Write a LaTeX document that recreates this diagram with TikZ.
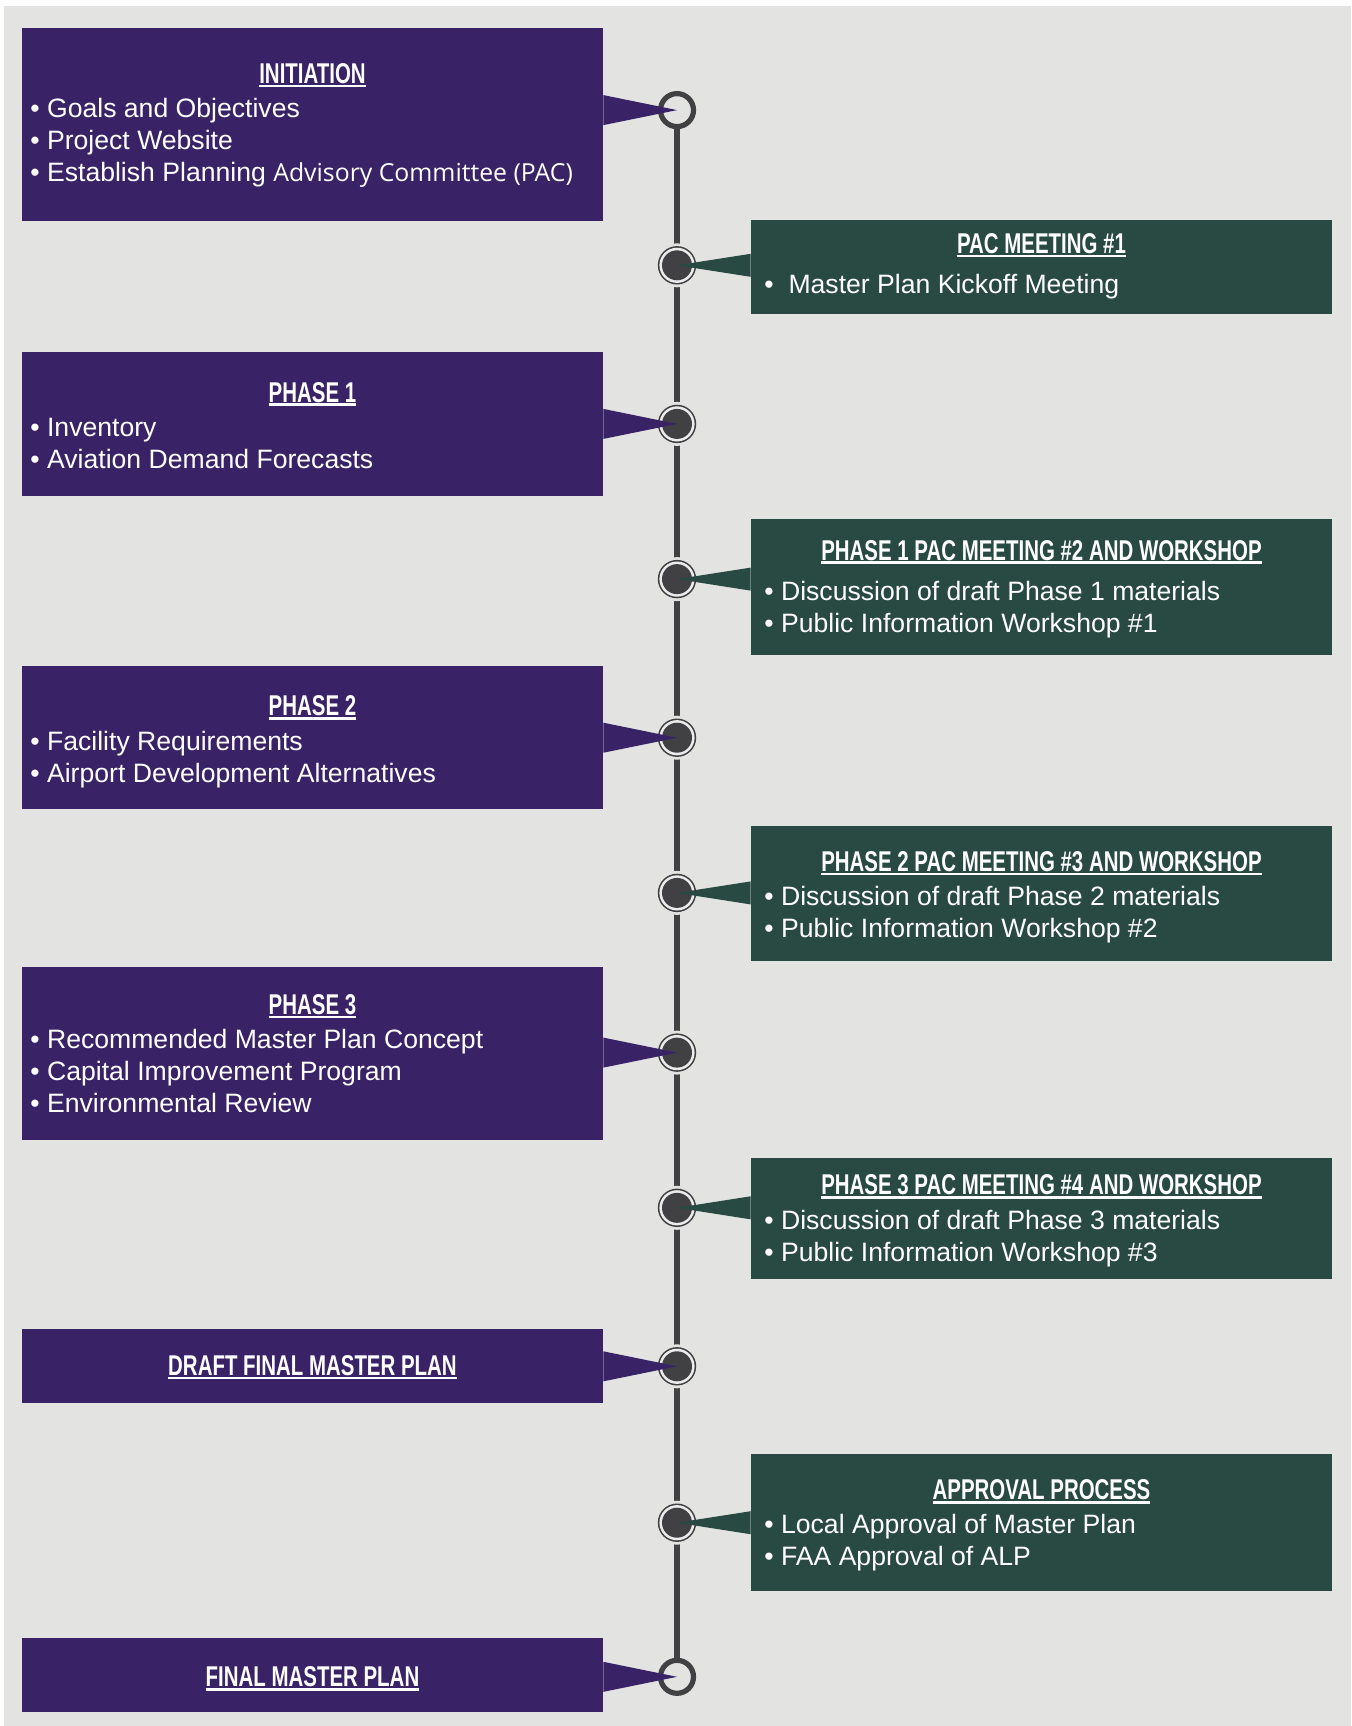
\documentclass[tikz,border=0pt]{standalone}
\usepackage{fontspec}
\setmainfont{Liberation Sans}
\newfontfamily\osfont{Open Sans}
\newfontfamily\ttlfont{Liberation Sans}[FakeStretch=0.715]
\usetikzlibrary{calc}
\definecolor{bgc}{HTML}{E3E3E1}
\definecolor{pur}{HTML}{3A2267}
\definecolor{grn}{HTML}{284A42}
\definecolor{dotc}{HTML}{414042}
\definecolor{gapc}{HTML}{ECECEC}
\newcommand\ttl[1]{\sbox0{\ttlfont\bfseries\fontsize{14.3pt}{16pt}\selectfont #1}\rlap{\usebox0}\rule[-2pt]{\wd0}{1.3pt}}
\tikzset{
  box/.style={rectangle, inner sep=0, minimum width=290.5pt},
  pbox/.style={box, fill=pur},
  gbox/.style={box, fill=grn},
  ttlnode/.style={inner sep=0, anchor=base, text=white},
  txt/.style={inner sep=0, anchor=base west, text=white, font=\fontsize{13.3pt}{16pt}\selectfont, yshift=-1.25pt},
  vline/.style={draw=dotc, line width=2.65pt},
}
\begin{document}
\begin{tikzpicture}[x=0.5pt,y=-0.5pt]
\useasboundingbox (0,0) rectangle (1351,1726);
\fill[white] (0,0) rectangle (1351,1726);
\fill[bgc] (4,6) rectangle (1351,1726);
% timeline points
\coordinate (c1) at (677,110.1);
\coordinate (c2) at (677,265.3);
\coordinate (c3) at (677,423.9);
\coordinate (c4) at (677,579.1);
\coordinate (c5) at (677,737.7);
\coordinate (c6) at (677,892.9);
\coordinate (c7) at (677,1052.6);
\coordinate (c8) at (677,1207.8);
\coordinate (c9) at (677,1366.3);
\coordinate (c10) at (677,1522.7);
\coordinate (c11) at (677,1676.8);
\draw[vline] (c1) -- (c11);
\foreach \n in {2,...,10}{
  \fill[bgc] (c\n) circle (22);
  \fill[dotc] (c\n) circle (19.2);
  \fill[gapc] (c\n) circle (17.6);
  \fill[dotc] (c\n) circle (15);
}
\draw[dotc, line width=2.6pt, fill=bgc] (c1) circle (16.5);
\draw[dotc, line width=2.6pt, fill=bgc] (c11) circle (16.5);
% boxes
\node[pbox, minimum height=96.5pt] (init) at (312.5,124) {};
\node[gbox, minimum height=46.9pt] (pac1) at (1041.5,267.1) {};
\node[pbox, minimum height=71.6pt] (ph1) at (312.5,423.9) {};
\node[gbox, minimum height=68.25pt] (pac2) at (1041.5,586.85) {};
\node[pbox, minimum height=71.55pt] (ph2) at (312.5,737.65) {};
\node[gbox, minimum height=67.7pt] (pac3) at (1041.5,893.5) {};
\node[pbox, minimum height=86.4pt] (ph3) at (312.5,1053.1) {};
\node[gbox, minimum height=60.55pt] (pac4) at (1041.5,1218.85) {};
\node[pbox, minimum height=36.9pt] (draft) at (312.5,1365.8) {};
\node[gbox, minimum height=68.3pt] (appr) at (1041.5,1522.7) {};
\node[pbox, minimum height=36.85pt] (final) at (312.5,1675.15) {};
% pointers
\foreach \b/\c in {init/c1,ph1/c3,ph2/c5,ph3/c7,draft/c9,final/c11}{
  \fill[pur] ($(\c -| \b.east)+(0,-15)$) -- (\c) -- ($(\c -| \b.east)+(0,15)$) -- cycle;
}
\foreach \b/\c in {pac1/c2,pac2/c4,pac3/c6,pac4/c8,appr/c10}{
  \fill[grn] ($(\c -| \b.west)+(0,-11.5)$) -- (\c) -- ($(\c -| \b.west)+(0,11.5)$) -- cycle;
}
% INITIATION
\node[ttlnode] (t1) at (312.5,83.3) {\ttl{INITIATION}};
\node[txt] (t1a) at (30,114.9) {• Goals and Objectives};
\node[txt] (t1b) at (30,146.8) {• Project Website};
\node[txt] (t1c) at (30,178.8) {• Establish Planning {\osfont\fontsize{12.4pt}{16pt}\selectfont Advisory Committee (PAC)}};
% PAC 1
\node[ttlnode] (t2) at (1041.5,253.4) {\ttl{PAC MEETING \#1}};
\node[txt] (t2a) at (764,291) {•\hspace*{7.4pt}Master Plan Kickoff Meeting};
% PHASE 1
\node[ttlnode] (t3) at (312.5,402) {\ttl{PHASE 1}};
\node[txt] (t3a) at (30,434.2) {• Inventory};
\node[txt] (t3b) at (30,466.1) {• Aviation Demand Forecasts};
% PAC 2
\node[ttlnode] (t4) at (1041.5,560) {\ttl{PHASE 1 PAC MEETING \#2 AND WORKSHOP}};
\node[txt] (t4a) at (764,598.3) {• Discussion of draft Phase 1 materials};
\node[txt] (t4b) at (764,630.3) {• Public Information Workshop \#1};
% PHASE 2
\node[ttlnode] (t5) at (312.5,715.8) {\ttl{PHASE 2}};
\node[txt] (t5a) at (30,748) {• Facility Requirements};
\node[txt] (t5b) at (30,779.9) {• Airport Development Alternatives};
% PAC 3
\node[ttlnode] (t6) at (1041.5,871.1) {\ttl{PHASE 2 PAC MEETING \#3 AND WORKSHOP}};
\node[txt] (t6a) at (764,903.2) {• Discussion of draft Phase 2 materials};
\node[txt] (t6b) at (764,935.1) {• Public Information Workshop \#2};
% PHASE 3
\node[ttlnode] (t7) at (312.5,1014.2) {\ttl{PHASE 3}};
\node[txt] (t7a) at (30,1046.3) {• Recommended Master Plan Concept};
\node[txt] (t7b) at (30,1078.3) {• Capital Improvement Program};
\node[txt] (t7c) at (30,1110.2) {• Environmental Review};
% PAC 4
\node[ttlnode] (t8) at (1041.5,1194.8) {\ttl{PHASE 3 PAC MEETING \#4 AND WORKSHOP}};
\node[txt] (t8a) at (764,1226.9) {• Discussion of draft Phase 3 materials};
\node[txt] (t8b) at (764,1258.8) {• Public Information Workshop \#3};
% DRAFT
\node[ttlnode] (t9) at (312.5,1375.3) {\ttl{DRAFT FINAL MASTER PLAN}};
% APPROVAL
\node[ttlnode] (t10) at (1041.5,1499.8) {\ttl{APPROVAL PROCESS}};
\node[txt] (t10a) at (764,1530.8) {• Local Approval of Master Plan};
\node[txt] (t10b) at (764,1562.7) {• FAA Approval of ALP};
% FINAL
\node[ttlnode] (t11) at (312.5,1686.7) {\ttl{FINAL MASTER PLAN}};
\end{tikzpicture}
\end{document}
